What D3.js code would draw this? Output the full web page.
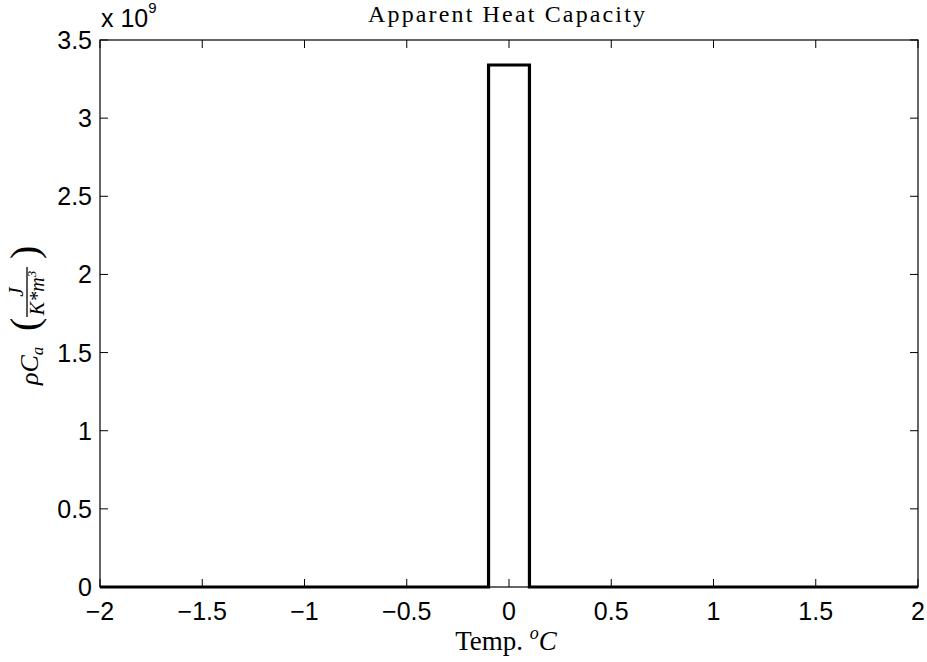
<!DOCTYPE html>
<html>
<head>
<meta charset="utf-8">
<script src="https://cdn.jsdelivr.net/npm/d3@7"></script>
<style>
  body { margin: 0; background: #fff; }
  svg { display: block; }
</style>
</head>
<body>
<div id="chart"></div>
<script>
// data
const tempX = [-2, -0.1, -0.1, 0, 0.1, 0.1, 2];
const capY = [0, 0, 3.34e9, 3.34e9, 3.34e9, 0, 0];
const xTicks = [-2, -1.5, -1, -0.5, 0, 0.5, 1, 1.5, 2];
const yTicks = [0, 0.5, 1, 1.5, 2, 2.5, 3, 3.5];
const yScaleExp = 9;

const width = 927, height = 662;
const margin = {left: 100, top: 40, right: 9, bottom: 75};
const plotW = width - margin.left - margin.right;
const plotH = height - margin.top - margin.bottom;
const tickLen = 8;
const sans = "'Liberation Sans', Arial, Helvetica, sans-serif";
const serif = "'Liberation Serif', 'Times New Roman', serif";

const svg = d3.select("#chart").append("svg")
    .attr("width", width)
    .attr("height", height);

const g = svg.append("g")
    .attr("transform", "translate(" + margin.left + "," + margin.top + ")");

const x = d3.scaleLinear().domain([-2, 2]).range([0, plotW]);
const y = d3.scaleLinear().domain([0, 3.5e9]).range([plotH, 0]);

// box
g.append("rect")
    .attr("width", plotW).attr("height", plotH)
    .attr("fill", "none").attr("stroke", "#000").attr("stroke-width", 1.2);

// ticks pointing inward on all four sides
g.selectAll(".xtb").data(xTicks).enter().append("line")
    .attr("x1", d => x(d)).attr("x2", d => x(d))
    .attr("y1", plotH).attr("y2", plotH - tickLen)
    .attr("stroke", "#000").attr("stroke-width", 1);
g.selectAll(".xtt").data(xTicks).enter().append("line")
    .attr("x1", d => x(d)).attr("x2", d => x(d))
    .attr("y1", 0).attr("y2", tickLen)
    .attr("stroke", "#000").attr("stroke-width", 1);
g.selectAll(".ytl").data(yTicks).enter().append("line")
    .attr("x1", 0).attr("x2", tickLen)
    .attr("y1", d => y(d * 1e9)).attr("y2", d => y(d * 1e9))
    .attr("stroke", "#000").attr("stroke-width", 1);
g.selectAll(".ytr").data(yTicks).enter().append("line")
    .attr("x1", plotW).attr("x2", plotW - tickLen)
    .attr("y1", d => y(d * 1e9)).attr("y2", d => y(d * 1e9))
    .attr("stroke", "#000").attr("stroke-width", 1);

// tick labels
g.selectAll(".xl").data(xTicks).enter().append("text")
    .attr("x", d => x(d)).attr("y", plotH + 33)
    .attr("text-anchor", "middle")
    .style("font-family", sans).style("font-size", "25px")
    .text(d => d < 0 ? "\u2212" + Math.abs(d) : d);
g.selectAll(".yl").data(yTicks).enter().append("text")
    .attr("x", -8).attr("y", d => y(d * 1e9) + 9)
    .attr("text-anchor", "end")
    .style("font-family", sans).style("font-size", "25px")
    .text(d => d);

// exponent
const ex = svg.append("text")
    .attr("x", margin.left + 1).attr("y", 27)
    .style("font-family", sans).style("font-size", "25px");
ex.append("tspan").text("x 10");
ex.append("tspan").attr("dy", -14).style("font-size", "15px").text(yScaleExp);

// the curve
const line = d3.line()
    .x((d, i) => x(tempX[i]))
    .y(d => y(d));
g.append("path")
    .datum(capY)
    .attr("d", line)
    .attr("fill", "none")
    .attr("stroke", "#000")
    .attr("stroke-width", 3.2)
    .attr("stroke-linejoin", "miter");

// title
svg.append("text")
    .attr("x", 506.5).attr("y", 22)
    .attr("text-anchor", "middle")
    .attr("textLength", 277).attr("lengthAdjust", "spacing")
    .style("font-family", serif).style("font-size", "24px")
    .text("Apparent Heat Capacity");

// x label
const xl = svg.append("text")
    .attr("x", 506).attr("y", 650)
    .attr("text-anchor", "middle")
    .style("font-family", serif).style("font-size", "27px");
xl.append("tspan").text("Temp. ");
xl.append("tspan").attr("dy", -11).style("font-style", "italic").style("font-size", "18px").text("o");
xl.append("tspan").attr("dy", 11).style("font-style", "italic").text("C");

// y label: rho C_a ( J / (K*m^3) ), rotated
const yl = svg.append("g")
    .attr("transform", "translate(38,315) rotate(-90)")
    .style("font-family", serif);
const main = yl.append("text").attr("x", -70).attr("y", 0).style("font-size", "26px").style("font-style", "italic");
main.append("tspan").text("\u03C1C");
main.append("tspan").attr("dy", 5).style("font-size", "17px").text("a");
yl.append("text").attr("x", -16).attr("y", 0)
    .style("font-size", "40px").text("(");
yl.append("line")
    .attr("x1", -2).attr("x2", 48).attr("y1", -11).attr("y2", -11)
    .attr("stroke", "#000").attr("stroke-width", 1.3);
yl.append("text").attr("x", 23).attr("y", -15)
    .attr("text-anchor", "middle")
    .style("font-size", "21px").style("font-style", "italic").text("J");
const den = yl.append("text").attr("x", 22).attr("y", 6)
    .attr("text-anchor", "middle")
    .style("font-size", "20px").style("font-style", "italic");
den.append("tspan").text("K*m");
den.append("tspan").attr("dy", -8).style("font-size", "13px").text("3");
yl.append("text").attr("x", 56).attr("y", 0)
    .style("font-size", "40px").text(")");
</script>
</body>
</html>
